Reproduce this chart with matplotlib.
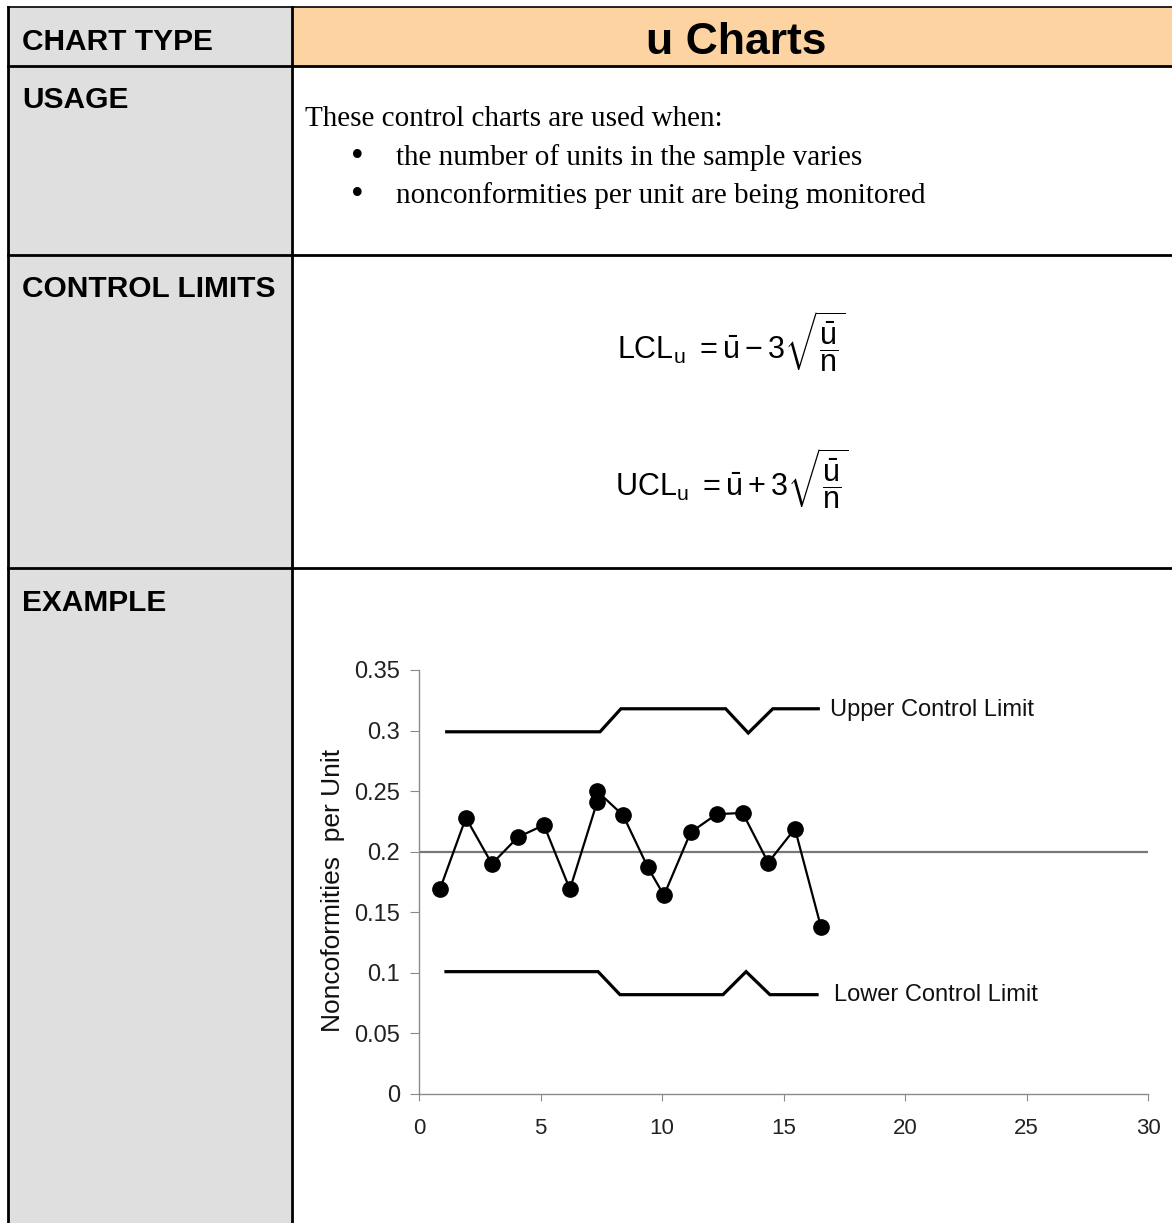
import matplotlib
matplotlib.use('Agg')
import matplotlib.pyplot as plt
from matplotlib.patches import Rectangle

plt.rcParams['font.family'] = ['Liberation Sans', 'DejaVu Sans']
plt.rcParams['mathtext.fontset'] = 'custom'
plt.rcParams['mathtext.rm'] = 'Liberation Sans'
plt.rcParams['mathtext.it'] = 'Liberation Sans'
plt.rcParams['mathtext.bf'] = 'Liberation Sans:bold'

# --- chart data ---
sample_x = [0.86, 1.93, 3.00, 4.07, 5.14, 6.21, 7.33, 7.33, 8.40, 9.42,
            10.08, 11.18, 12.25, 13.32, 14.37, 15.47, 16.54]
u_values = [0.169, 0.228, 0.190, 0.212, 0.222, 0.169, 0.241, 0.250, 0.230, 0.187,
            0.164, 0.216, 0.231, 0.232, 0.191, 0.219, 0.138]
u_bar = 0.2

ucl_x = [1.14, 7.45, 8.31, 12.62, 13.55, 14.56, 16.43]
ucl_y = [0.299, 0.299, 0.318, 0.318, 0.298, 0.318, 0.318]
lcl_x = [1.11, 7.37, 8.27, 12.51, 13.46, 14.44, 16.38]
lcl_y = [0.101, 0.101, 0.082, 0.082, 0.101, 0.082, 0.082]

x_ticks = [0, 5, 10, 15, 20, 25, 30]
y_ticks = [0, 0.05, 0.1, 0.15, 0.2, 0.25, 0.3, 0.35]
y_ticklabels = ['0', '0.05', '0.1', '0.15', '0.2', '0.25', '0.3', '0.35']

row_labels = ['CHART TYPE', 'USAGE', 'CONTROL LIMITS', 'EXAMPLE']
usage_intro = 'These control charts are used when:'
usage_bullets = ['the number of units in the sample varies',
                 'nonconformities per unit are being monitored']

W, H = 1172, 1223
fig = plt.figure(figsize=(W / 100, H / 100), dpi=100)

# table drawn in pixel coordinates
bg = fig.add_axes([0, 0, 1, 1])
bg.set_xlim(0, W)
bg.set_ylim(H, 0)
bg.axis('off')

bg.add_patch(Rectangle((8, 7), 284, H, facecolor='#dfdfdf', edgecolor='none'))
bg.add_patch(Rectangle((292, 7), W - 292, 59, facecolor='#fdd3a2', edgecolor='none'))
lw = 2.0
bg.plot([8, W], [7, 7], color='black', lw=1.2)
for yy in [66, 255, 568]:
    bg.plot([8, W], [yy, yy], color='black', lw=lw)
bg.plot([8, 8], [7, H], color='black', lw=lw)
bg.plot([292, 292], [7, H], color='black', lw=lw)

for label, yy in zip(row_labels, [42, 100, 289, 603]):
    bg.text(22, yy, label, fontsize=21.5, fontweight='bold', ha='left', va='center')
bg.text(736, 42, 'u Charts', fontsize=32, fontweight='bold', ha='center', va='center')

serif = ['Liberation Serif', 'DejaVu Serif']
bg.text(305, 119, usage_intro, fontsize=21, family=serif, ha='left', va='center')
for i, b in enumerate(usage_bullets):
    yy = 158 + 38 * i
    bg.text(357, yy, '\u2022', fontsize=26, family=serif, ha='center', va='center')
    bg.text(396, yy, b, fontsize=21, family=serif, ha='left', va='center')

bg.text(731, 342, r'$\mathrm{LCL}_{u}\ = \bar{u} - 3\sqrt{\dfrac{\bar{u}}{n}}$',
        fontsize=22, ha='center', va='center')
bg.text(732, 479, r'$\mathrm{UCL}_{u}\ = \bar{u} + 3\sqrt{\dfrac{\bar{u}}{n}}$',
        fontsize=22, ha='center', va='center')

bg.text(333, 890, 'Noncoformities  per Unit', fontsize=19, rotation=90,
        ha='center', va='center', color='#111111')

# the example chart
ax = fig.add_axes([419 / W, (H - 1094) / H, 729 / W, 424 / H])
ax.set_facecolor('none')
ax.set_xlim(0, 30)
ax.set_ylim(0, 0.35)
for side in ['top', 'right']:
    ax.spines[side].set_visible(False)
for side in ['left', 'bottom']:
    ax.spines[side].set_color('#8a8a8a')
    ax.spines[side].set_linewidth(1.0)

ax.set_xticks(x_ticks)
ax.set_yticks(y_ticks)
ax.set_yticklabels(y_ticklabels)
ax.tick_params(axis='y', length=6.5, color='#8a8a8a', pad=7, labelsize=17, labelcolor='#222222')
ax.tick_params(axis='x', length=5, color='#8a8a8a', pad=12, labelsize=16, labelcolor='#222222')

ax.axhline(u_bar, color='#777777', lw=1.6, zorder=2)
ax.plot(ucl_x, ucl_y, color='black', lw=2.3, zorder=3, solid_joinstyle='miter')
ax.plot(lcl_x, lcl_y, color='black', lw=2.3, zorder=3, solid_joinstyle='miter')
ax.plot(sample_x, u_values, color='black', lw=1.6, marker='o', markersize=11,
        zorder=4, clip_on=False)

ax.text(16.9, 0.317, 'Upper Control Limit', fontsize=17, ha='left', va='center', color='#111111')
ax.text(17.08, 0.0818, 'Lower Control Limit', fontsize=17, ha='left', va='center', color='#111111')

fig.savefig('out.png', dpi=100)
